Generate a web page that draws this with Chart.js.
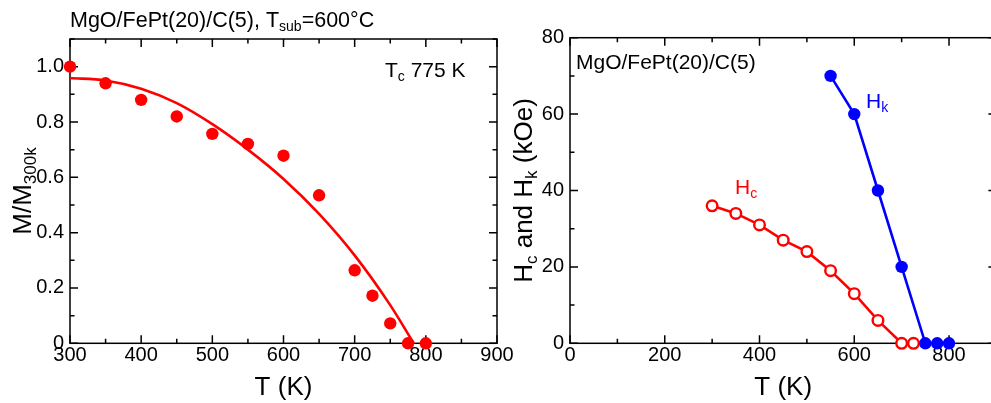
<!DOCTYPE html>
<html><head><meta charset="utf-8">
<script src="https://cdn.jsdelivr.net/npm/chart.js@4.4.1/dist/chart.umd.min.js"></script>
<style>
html,body{margin:0;padding:0;background:#fff;overflow:hidden;width:991px;height:403px;}
#wrap{position:relative;width:991px;height:403px;overflow:hidden;background:#fff;}
canvas{position:absolute;top:0;}
#c1{left:0;} #c2{left:500px;}
</style></head><body><div id="wrap"><canvas id="c1" width="530" height="403"></canvas><canvas id="c2" width="530" height="403"></canvas></div>
<script>
// ---- data (left panel) ----
const tempM = [300, 350, 400, 450, 500, 550, 600, 650, 700, 725, 750, 775, 800];
const magM  = [1.0, 0.94, 0.88, 0.82, 0.757, 0.721, 0.678, 0.535, 0.264, 0.172, 0.072, 0.0, 0.0];
const fitT  = [300, 350, 400, 450, 500, 550, 600, 650, 700, 750, 783];
const fitM  = [0.959, 0.950, 0.920, 0.868, 0.792, 0.700, 0.594, 0.468, 0.318, 0.138, 0.0];
const xTickValsL = [300, 400, 500, 600, 700, 800, 900];
const xTickLabsL = ['300', '400', '500', '600', '700', '800', '900'];
const yTickValsL = [0, 0.2, 0.4, 0.6, 0.8, 1.0];
const yTickLabsL = ['0', '0.2', '0.4', '0.6', '0.8', '1.0'];
// ---- data (right panel) ----
const tempHc = [300, 350, 400, 450, 500, 550, 600, 650, 700, 725];
const valHc  = [36, 34, 31, 27, 24, 19, 13, 6, 0, 0];
const tempHk = [550, 600, 650, 700, 750, 775, 800];
const valHk  = [70, 60, 40, 20, 0, 0, 0];
const xTickValsR = [0, 200, 400, 600, 800];
const xTickLabsR = ['0', '200', '400', '600', '800'];
const yTickValsR = [0, 20, 40, 60, 80];
const yTickLabsR = ['0', '20', '40', '60', '80'];

const FONT = "'Liberation Sans', Arial, sans-serif";
const RED = '#ff0000';
const BLUE = '#0000ff';

function pts(xs, ys){ return xs.map((x,i)=>({x:x, y:ys[i]})); }

function drawRich(ctx, parts, x, y, align, color){
  let w = 0;
  for (const p of parts){ ctx.font = p.size + 'px ' + FONT; w += ctx.measureText(p.t).width; }
  let cx = align === 'center' ? x - w/2 : x;
  ctx.fillStyle = color; ctx.textBaseline = 'alphabetic'; ctx.textAlign = 'left';
  for (const p of parts){
    ctx.font = p.size + 'px ' + FONT;
    ctx.fillText(p.t, cx, y + (p.dy || 0));
    cx += ctx.measureText(p.t).width;
  }
}

const framePlugin = {
  id: 'frameTicks',
  beforeDatasetsDraw(chart, args, o){
    const ctx = chart.ctx, a = chart.chartArea;
    const xs = chart.scales.x, ys = chart.scales.y;
    ctx.save();
    ctx.strokeStyle = '#000'; ctx.lineWidth = 1.5;
    ctx.strokeRect(a.left, a.top, a.right - a.left, a.bottom - a.top);
    ctx.beginPath();
    const eps = 1e-6;
    for (let v = xs.min; v <= xs.max + eps; v += o.xMinor){
      const major = Math.abs(v/o.xMajor - Math.round(v/o.xMajor)) < 1e-6;
      const L = major ? 8 : 4.5;
      const px = xs.getPixelForValue(v);
      ctx.moveTo(px, a.bottom); ctx.lineTo(px, a.bottom - L);
      ctx.moveTo(px, a.top); ctx.lineTo(px, a.top + L);
    }
    for (let v = ys.min; v <= ys.max + eps; v += o.yMinor){
      const major = Math.abs(v/o.yMajor - Math.round(v/o.yMajor)) < 1e-6;
      const L = major ? 8 : 4.5;
      const py = ys.getPixelForValue(v);
      ctx.moveTo(a.left, py); ctx.lineTo(a.left + L, py);
      ctx.moveTo(a.right, py); ctx.lineTo(a.right - L, py);
    }
    ctx.stroke();
    ctx.restore();
  },
  afterDraw(chart, args, o){
    const ctx = chart.ctx;
    ctx.save();
    for (const t of (o.texts || [])){
      if (t.rotate){
        ctx.save(); ctx.translate(t.x, t.y); ctx.rotate(-Math.PI/2);
        drawRich(ctx, t.parts, 0, 0, t.align, t.color);
        ctx.restore();
      } else {
        drawRich(ctx, t.parts, t.x, t.y, t.align, t.color);
      }
    }
    ctx.restore();
  }
};

function makeScales(xmin, xmax, xv, xl, ymin, ymax, yv, yl, xh){
  return {
    x: {
      type: 'linear', min: xmin, max: xmax,
      grid: {display: false, drawTicks: false}, border: {display: false},
      afterBuildTicks: s => { s.ticks = xv.map(v => ({value: v})); },
      afterFit: s => { s.height = xh; },
      ticks: {autoSkip: false, maxRotation: 0, padding: 0, color: '#000',
        font: {family: FONT, size: 20},
        callback: (v, i) => xl[i]}
    },
    y: {
      type: 'linear', min: ymin, max: ymax,
      grid: {display: false, drawTicks: false}, border: {display: false},
      afterBuildTicks: s => { s.ticks = yv.map(v => ({value: v})); },
      afterFit: s => { s.width = 70; },
      ticks: {autoSkip: false, padding: 6, color: '#000',
        font: {family: FONT, size: 20},
        callback: (v, i) => yl[i]}
    }
  };
}

new Chart(document.getElementById('c1'), {
  type: 'scatter',
  data: { datasets: [
    { data: pts(tempM, magM), showLine: false, pointRadius: 6.2, pointBackgroundColor: RED,
      pointBorderColor: RED, pointBorderWidth: 0, clip: false, order: 0 },
    { data: pts(fitT, fitM), showLine: true, pointRadius: 0, borderColor: RED, borderWidth: 2.6,
      cubicInterpolationMode: 'monotone', fill: false, clip: false, order: 1 }
  ]},
  options: {
    responsive: false, animation: false, devicePixelRatio: 1,
    layout: {padding: {top: 39, right: 33, left: 0, bottom: 0}},
    scales: makeScales(300, 900, xTickValsL, xTickLabsL, 0, 1.1, yTickValsL, yTickLabsL, 59.7),
    plugins: {
      legend: {display: false}, tooltip: {enabled: false},
      frameTicks: {
        xMajor: 100, xMinor: 50, yMajor: 0.2, yMinor: 0.1,
        texts: [
          {parts: [{t: 'MgO/FePt(20)/C(5), T', size: 21.5}, {t: 'sub', size: 14, dy: 4}, {t: '=600°C', size: 21.5}],
            x: 70, y: 26.5, align: 'left', color: '#000'},
          {parts: [{t: 'T', size: 21}, {t: 'c', size: 14, dy: 4}, {t: ' 775 K', size: 21}],
            x: 385, y: 76.5, align: 'left', color: '#000'},
          {parts: [{t: 'T (K)', size: 26}], x: 283.5, y: 395, align: 'center', color: '#000'},
          {parts: [{t: 'M/M', size: 26}, {t: '300k', size: 17, dy: 5}], x: 30.5, y: 191, align: 'center', color: '#000', rotate: true}
        ]
      }
    }
  },
  plugins: [framePlugin]
});

new Chart(document.getElementById('c2'), {
  type: 'scatter',
  data: { datasets: [
    { data: pts(tempHk, valHk), showLine: true, borderColor: BLUE, borderWidth: 2.6,
      pointRadius: 6.2, pointBackgroundColor: BLUE, pointBorderColor: BLUE, pointBorderWidth: 0,
      clip: false, order: 0 },
    { data: pts(tempHc, valHc), showLine: true, borderColor: RED, borderWidth: 2.6,
      pointRadius: 5.3, pointBackgroundColor: '#fff', pointBorderColor: RED, pointBorderWidth: 2.4,
      clip: false, order: 1 }
  ]},
  options: {
    responsive: false, animation: false, devicePixelRatio: 1,
    layout: {padding: {top: 37.7, right: 33.6, left: 0, bottom: 0}},
    scales: makeScales(0, 900, xTickValsR, xTickLabsR, 0, 80, yTickValsR, yTickLabsR, 59.7),
    plugins: {
      legend: {display: false}, tooltip: {enabled: false},
      frameTicks: {
        xMajor: 200, xMinor: 100, yMajor: 20, yMinor: 10,
        texts: [
          {parts: [{t: 'MgO/FePt(20)/C(5)', size: 21}], x: 76, y: 68.5, align: 'left', color: '#000'},
          {parts: [{t: 'H', size: 21}, {t: 'k', size: 14, dy: 4}], x: 366, y: 108, align: 'left', color: BLUE},
          {parts: [{t: 'H', size: 21}, {t: 'c', size: 14, dy: 4}], x: 235, y: 193.5, align: 'left', color: RED},
          {parts: [{t: 'T (K)', size: 26}], x: 283.2, y: 395, align: 'center', color: '#000'},
          {parts: [{t: 'H', size: 26}, {t: 'c', size: 17, dy: 5}, {t: ' and H', size: 26}, {t: 'k', size: 17, dy: 5}, {t: ' (kOe)', size: 26}],
            x: 32, y: 190.5, align: 'center', color: '#000', rotate: true}
        ]
      }
    }
  },
  plugins: [framePlugin]
});
</script></body></html>
